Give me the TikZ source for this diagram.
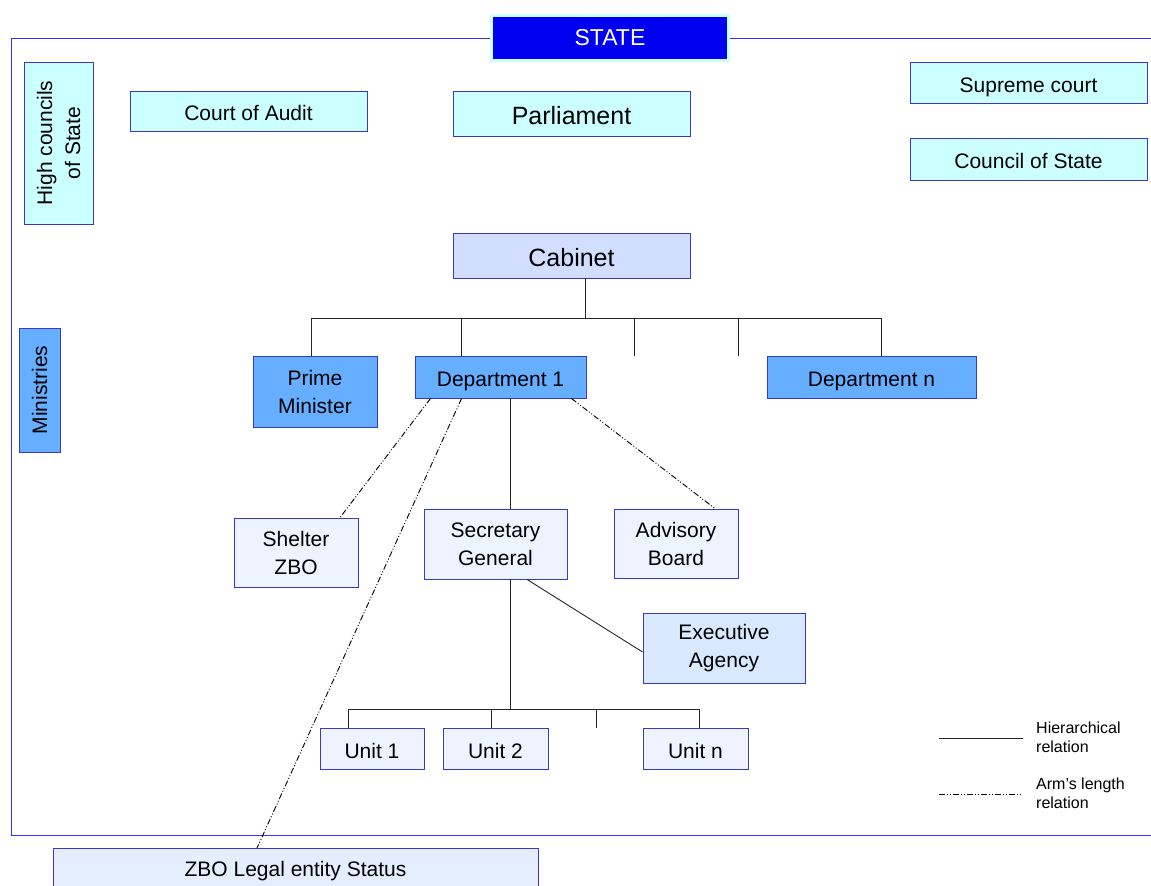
\documentclass[tikz,border=0pt]{standalone}
\usepackage{fontspec}
\setmainfont{Liberation Sans}
\usetikzlibrary{calc}
\definecolor{frameblue}{HTML}{3333FF}
\definecolor{edgeblue}{HTML}{3838D0}
\definecolor{cyanfill}{HTML}{CCFFFF}
\definecolor{minfill}{HTML}{66AEFF}
\definecolor{cabfill}{HTML}{D2DEFF}
\definecolor{paleblue}{HTML}{EEF4FF}
\definecolor{agencyfill}{HTML}{D8E8FF}
\definecolor{zbofill}{HTML}{E4EEFF}
\definecolor{statebg}{HTML}{0000F0}
\begin{document}
\begin{tikzpicture}[x=1pt,y=-1pt,
  box/.style={draw=edgeblue, line width=0.9pt, inner sep=0pt, align=center,
    font=\fontsize{21}{28}\selectfont},
  oneline/.style={text height=19pt, text depth=0pt},
  bigtext/.style={font=\fontsize{25}{30}\selectfont, text height=21pt, text depth=0pt},
  hier/.style={draw=black!85, line width=0.9pt},
  arm/.style={draw=black, line width=0.9pt,
    dash pattern=on 6pt off 2pt on 1pt off 2pt on 1pt off 2pt},
  legendtext/.style={align=left, anchor=west, inner sep=0pt,
    font=\fontsize{16}{19}\selectfont}]
\clip (0,0) rectangle (1151,886);
\fill[white] (0,0) rectangle (1151,886);

% title and outer frame
\node[draw=cyanfill, line width=3pt, fill=statebg, text=white, inner sep=0pt,
  minimum width=237pt, minimum height=45pt, font=\fontsize{23}{28}\selectfont]
  (state) at (610,38) {STATE};
\draw[frameblue, line width=1pt] (state.west) -- (11,38) -- (11,835) -- (1151,835);
\draw[frameblue, line width=1pt] (state.east) -- (1151,38);

% high councils of state
\node[box, fill=cyanfill, rotate=90, minimum width=162pt, minimum height=69pt]
  (hc) at (58.5,143) {High councils\\of State};
\node[box, oneline, fill=cyanfill, minimum width=237pt, minimum height=40pt]
  (audit) at (248.5,111) {Court of Audit};
\node[box, bigtext, fill=cyanfill, minimum width=237pt, minimum height=45pt]
  (parl) at (571.5,113.5) {Parliament};
\node[box, oneline, fill=cyanfill, minimum width=237pt, minimum height=41pt]
  (supreme) at (1028.5,82.5) {Supreme court};
\node[box, oneline, fill=cyanfill, minimum width=237pt, minimum height=42pt]
  (cstate) at (1028.5,159) {Council of State};

% cabinet and ministries
\node[box, bigtext, fill=cabfill, minimum width=237pt, minimum height=45pt]
  (cab) at (571.5,255.5) {Cabinet};
\node[box, fill=minfill, rotate=90, minimum width=124pt, minimum height=41pt]
  (min) at (39.5,390) {Ministries};
\node[box, fill=minfill, minimum width=124pt, minimum height=71pt]
  (pm) at (315,391.5) {Prime\\Minister};
\node[box, oneline, fill=minfill, minimum width=171pt, minimum height=42pt]
  (d1) at (500.5,377) {Department 1};
\node[box, oneline, fill=minfill, minimum width=209pt, minimum height=42pt]
  (dn) at (871.5,377) {Department n};

% department level
\node[box, fill=paleblue, minimum width=124pt, minimum height=69pt]
  (shelter) at (296,552.5) {Shelter\\ZBO};
\node[box, fill=paleblue, minimum width=143pt, minimum height=70pt]
  (sg) at (495.5,544) {Secretary\\General};
\node[box, fill=paleblue, minimum width=124pt, minimum height=69pt]
  (adv) at (676,543.5) {Advisory\\Board};
\node[box, fill=agencyfill, minimum width=162pt, minimum height=70pt]
  (ea) at (724,648) {Executive\\Agency};

% units
\node[box, oneline, fill=paleblue, minimum width=104pt, minimum height=41pt]
  (u1) at (372,748.5) {Unit 1};
\node[box, oneline, fill=paleblue, minimum width=105pt, minimum height=41pt]
  (u2) at (495.5,748.5) {Unit 2};
\node[box, oneline, fill=paleblue, minimum width=105pt, minimum height=41pt]
  (un) at (695.5,748.5) {Unit n};

\node[box, fill=zbofill, minimum width=485pt, minimum height=46pt, anchor=north]
  (zbo) at (295.5,848) {};
\node[font=\fontsize{21}{25}\selectfont, inner sep=0pt] (zbotext) at (295.5,871)
  {ZBO Legal entity Status};

% hierarchy below the cabinet
\coordinate (cabstem) at ($(cab.south west)+(133,0)$);
\coordinate (bus) at ($(cabstem)+(0,40)$);
\draw[hier] (cabstem) -- (bus);
\draw[hier] ($(pm.north)+(-4,0)$) |- (bus) -| ($(dn.north)+(9.5,0)$);
\draw[hier] ($(d1.north west)+(47,0)$) -- ++(0,-38);
\draw[hier] (634,356) -- (634,318);
\draw[hier] (738,356) -- (738,318);

% department 1 to its bodies
\draw[hier] ($(d1.south west)+(96,0)$) -- ($(sg.north west)+(87,0)$);
\draw[arm] ($(d1.south west)+(16,0)$) -- ($(shelter.north)+(44,0)$);
\draw[arm] ($(d1.south west)+(47,0)$) -- ($(zbo.north)+(-38.5,0)$);
\draw[arm] ($(d1.south east)+(-15,0)$) -- ($(adv.north)+(39,0)$);
\draw[hier] ($(sg.south)+(31.5,0)$) -- ($(ea.west)+(0,4)$);

% secretary general to the units
\coordinate (sgstem) at ($(sg.south west)+(87,0)$);
\coordinate (ubus) at ($(sgstem)+(0,130)$);
\draw[hier] (sgstem) -- (ubus);
\draw[hier] ($(u1.north)+(-24,0)$) |- (ubus) -| ($(un.north)+(3.5,0)$);
\draw[hier] ($(u2.north)+(-4.5,0)$) -- ++(0,-19);
\draw[hier] (596,728) -- (596,709);

% legend
\coordinate (l1a) at (939,738);
\coordinate (l1b) at (1023,738);
\coordinate (l2a) at (939,794);
\coordinate (l2b) at (1021,794);
\draw[hier] (l1a) -- (l1b);
\draw[arm] (l2a) -- (l2b);
\node[legendtext] (lt1) at (1036,737) {Hierarchical\\relation};
\node[legendtext] (lt2) at (1036,793) {Arm’s length\\relation};
\end{tikzpicture}
\end{document}
